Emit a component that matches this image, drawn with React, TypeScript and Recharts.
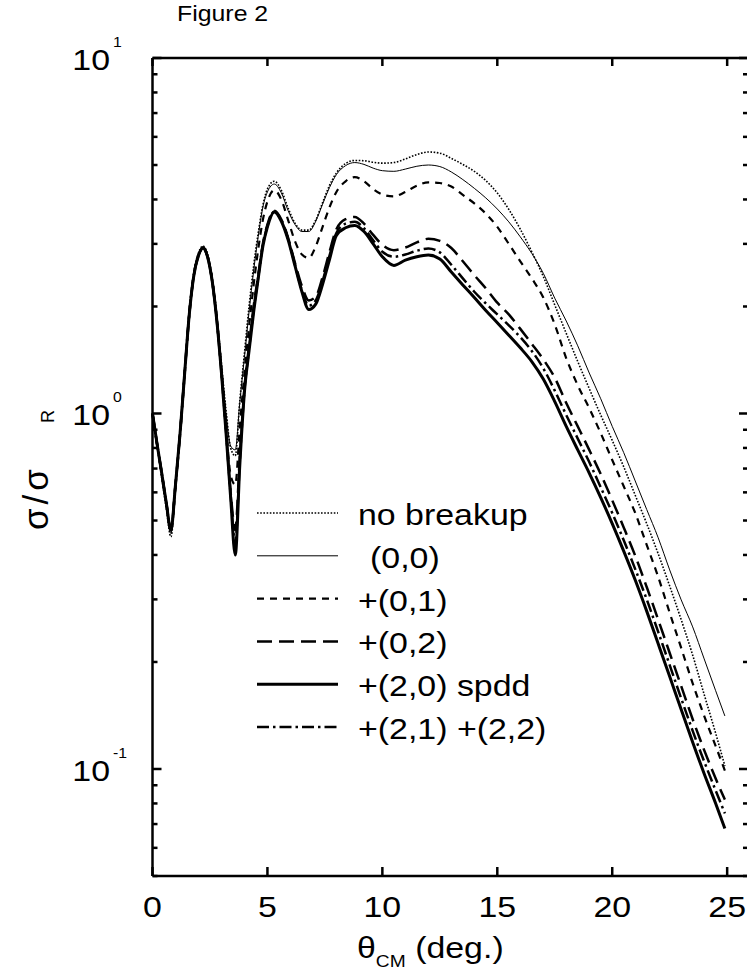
import React from "react";
import { LineChart, Line, XAxis, YAxis, Legend } from "recharts";

// scattering angle, degrees (CM frame)
const theta = [
  0, 0.2, 0.4, 0.6, 0.8, 1, 1.2, 1.4, 1.6, 1.8, 2, 2.2, 2.4, 2.6, 2.8, 3, 3.2, 3.4, 3.6, 3.8,
  4, 4.2, 4.4, 4.6, 4.8, 5, 5.3, 5.6, 5.9, 6.2, 6.5, 6.8, 7.1, 7.4, 7.7, 8, 8.4, 8.8, 9.2, 9.6,
  10, 10.5, 11, 11.5, 12, 12.5, 13, 13.5, 14, 14.5, 15, 15.5, 16, 16.5, 17, 17.5, 18, 18.5, 19, 19.5,
  20, 20.5, 21, 21.5, 22, 22.5, 23, 23.5, 24, 24.5, 24.9,
];

// sigma / sigma_Rutherford for each calculation
const noBreakup = [
  1.0, 0.81, 0.66, 0.54, 0.45, 0.61, 0.88, 1.32, 1.95, 2.5, 2.83, 2.96, 2.8, 2.4, 1.88, 1.38, 1.02, 0.8, 0.76, 1.09,
  1.48, 2.0, 2.6, 3.22, 3.85, 4.28, 4.5, 4.25, 3.78, 3.43, 3.28, 3.28, 3.5, 3.92, 4.38, 4.75, 5.05, 5.15, 5.14, 5.09,
  5.06, 5.08, 5.2, 5.35, 5.44, 5.4, 5.22, 5.02, 4.8, 4.52, 4.17, 3.75, 3.3, 2.85, 2.43, 2.02, 1.68, 1.4, 1.175, 0.99,
  0.84, 0.708, 0.589, 0.49, 0.403, 0.327, 0.263, 0.209, 0.162, 0.126, 0.102,
];
const only00 = [
  1.0, 0.82, 0.67, 0.55, 0.46, 0.62, 0.88, 1.31, 1.94, 2.49, 2.82, 2.95, 2.79, 2.39, 1.87, 1.36, 1.0, 0.81, 0.79, 1.08,
  1.44, 1.93, 2.52, 3.15, 3.8, 4.2, 4.42, 4.18, 3.72, 3.4, 3.25, 3.25, 3.47, 3.88, 4.32, 4.7, 4.98, 5.08, 5.02, 4.9,
  4.82, 4.8, 4.87, 4.96, 5.0, 4.95, 4.78, 4.55, 4.3, 4.04, 3.76, 3.46, 3.14, 2.82, 2.48, 2.11, 1.82, 1.55, 1.3, 1.1,
  0.92, 0.776, 0.646, 0.537, 0.447, 0.363, 0.299, 0.251, 0.204, 0.166, 0.141,
];
const plus01 = [
  1.0, 0.82, 0.68, 0.56, 0.47, 0.63, 0.88, 1.3, 1.92, 2.47, 2.8, 2.93, 2.77, 2.37, 1.85, 1.32, 0.92, 0.67, 0.63, 0.92,
  1.3, 1.75, 2.3, 2.9, 3.5, 3.95, 4.25, 4.0, 3.5, 3.05, 2.8, 2.74, 2.95, 3.35, 3.8, 4.2, 4.5, 4.62, 4.5, 4.28,
  4.13, 4.08, 4.2, 4.37, 4.47, 4.45, 4.35, 4.12, 3.9, 3.65, 3.35, 3.0, 2.68, 2.4, 2.12, 1.78, 1.43, 1.2, 1.035, 0.88,
  0.74, 0.624, 0.525, 0.427, 0.347, 0.275, 0.219, 0.174, 0.141, 0.116, 0.099,
];
const plus02 = [
  1.0, 0.82, 0.68, 0.56, 0.47, 0.63, 0.88, 1.3, 1.9, 2.45, 2.78, 2.92, 2.75, 2.35, 1.83, 1.31, 0.9, 0.6, 0.47, 0.76,
  1.18, 1.55, 2.0, 2.45, 3.0, 3.4, 3.72, 3.52, 3.12, 2.65, 2.28, 2.08, 2.13, 2.42, 2.85, 3.3, 3.52, 3.57, 3.42, 3.18,
  2.98, 2.88, 2.93, 3.03, 3.1, 3.06, 2.92, 2.68, 2.45, 2.25, 2.05, 1.9, 1.73, 1.57, 1.42, 1.26, 1.07, 0.92, 0.79, 0.675,
  0.57, 0.478, 0.398, 0.325, 0.263, 0.212, 0.171, 0.138, 0.113, 0.094, 0.082,
];
const plus20spdd = [
  1.0, 0.82, 0.68, 0.56, 0.47, 0.63, 0.88, 1.3, 1.9, 2.45, 2.78, 2.92, 2.75, 2.35, 1.82, 1.3, 0.88, 0.58, 0.4, 0.72,
  1.15, 1.5, 1.93, 2.4, 2.95, 3.35, 3.69, 3.48, 3.08, 2.6, 2.2, 1.96, 2.03, 2.31, 2.71, 3.17, 3.33, 3.38, 3.25, 3.0,
  2.76, 2.61, 2.7, 2.76, 2.79, 2.72, 2.5, 2.3, 2.12, 1.95, 1.8, 1.66, 1.53, 1.4, 1.25, 1.08, 0.92, 0.79, 0.68, 0.58,
  0.49, 0.41, 0.34, 0.278, 0.225, 0.182, 0.147, 0.119, 0.097, 0.08, 0.068,
];
const plus21plus22 = [
  1.0, 0.82, 0.68, 0.56, 0.47, 0.63, 0.88, 1.3, 1.9, 2.45, 2.78, 2.92, 2.75, 2.35, 1.82, 1.3, 0.89, 0.59, 0.43, 0.74,
  1.16, 1.52, 1.96, 2.42, 2.97, 3.37, 3.7, 3.5, 3.1, 2.62, 2.22, 2.01, 2.08, 2.36, 2.78, 3.22, 3.42, 3.46, 3.32, 3.07,
  2.85, 2.76, 2.8, 2.87, 2.91, 2.84, 2.62, 2.4, 2.2, 2.04, 1.9, 1.77, 1.64, 1.5, 1.34, 1.16, 0.99, 0.85, 0.73, 0.62,
  0.525, 0.44, 0.365, 0.3, 0.243, 0.196, 0.158, 0.128, 0.105, 0.087, 0.075,
];

const xTicks = [0, 5, 10, 15, 20, 25];
const yTicks = [
  0.05, 0.06, 0.07, 0.08, 0.09, 0.1, 0.2, 0.3, 0.4, 0.5, 0.6, 0.7, 0.8, 0.9,
  1, 2, 3, 4, 5, 6, 7, 8, 9, 10,
];
const yMajors = [
  { value: 0.1, exp: "-1" },
  { value: 1, exp: "0" },
  { value: 10, exp: "1" },
];

const FONT = "'Liberation Sans', Arial, Helvetica, sans-serif";
const SX = 1.13; // the original figure is a bit wider than tall

const series = [
  { key: "nb", name: "no breakup", values: noBreakup, width: 1.6, dash: "1.6 1.6" },
  { key: "c00", name: "(0,0)", values: only00, width: 1, dash: undefined },
  { key: "c01", name: "+(0,1)", values: plus01, width: 2.2, dash: "7 6" },
  { key: "c02", name: "+(0,2)", values: plus02, width: 2.5, dash: "15 7" },
  { key: "c20", name: "+(2,0) spdd", values: plus20spdd, width: 3, dash: undefined },
  { key: "c21", name: "+(2,1) +(2,2)", values: plus21plus22, width: 2.5, dash: "12 4 2.5 4" },
];

const data = theta.map((t, i) => {
  const row: Record<string, number> = { theta: t };
  series.forEach((s) => {
    row[s.key] = s.values[i];
  });
  return row;
});

const isMajor = (v: number) => yMajors.find((m) => Math.abs(m.value - v) < 1e-9);

const BottomTick = (props: any) => {
  const { x, y, payload } = props;
  return (
    <g>
      <line x1={x} y1={y} x2={x} y2={y - 9} stroke="#000" strokeWidth={2.5} />
      <text
        transform={`translate(${x},${y + 41}) scale(${SX},1)`}
        textAnchor="middle"
        fontSize={30}
        fontFamily={FONT}
        fill="#000"
      >
        {payload.value}
      </text>
    </g>
  );
};

const TopTick = (props: any) => {
  const { x, y } = props;
  return <line x1={x} y1={y} x2={x} y2={y + 8} stroke="#000" strokeWidth={2.5} />;
};

const LeftTick = (props: any) => {
  const { x, y, payload } = props;
  const major = isMajor(payload.value);
  return (
    <g>
      <line x1={x} y1={y} x2={x + (major ? 9 : 5)} y2={y} stroke="#000" strokeWidth={2.5} />
      {major && (
        <>
          <text
            transform={`translate(${x - 42.5},${y + 12}) scale(${SX},1)`}
            textAnchor="end"
            fontSize={30}
            fontFamily={FONT}
            fill="#000"
          >
            10
          </text>
          <text
            transform={`translate(${x - 39.5},${y - 11}) scale(${SX},1)`}
            fontSize={14}
            fontFamily={FONT}
            fill="#000"
          >
            {major.exp}
          </text>
        </>
      )}
    </g>
  );
};

const RightTick = (props: any) => {
  const { x, y, payload } = props;
  const major = isMajor(payload.value);
  return <line x1={x} y1={y} x2={x - (major ? 10 : 6)} y2={y} stroke="#000" strokeWidth={2.5} />;
};

const FigureTitle = () => (
  <text transform={`translate(177,21) scale(${SX},1)`} fontSize={22} fontFamily={FONT} fill="#000">
    Figure 2
  </text>
);

const XTitle = () => (
  <text transform={`translate(357,958) scale(${SX},1)`} fontSize={30} fontFamily={FONT} fill="#000">
    θ
    <tspan fontSize={17} dy={9}>
      CM
    </tspan>
    <tspan fontSize={30} dy={-9}>
      {" (deg.)"}
    </tspan>
  </text>
);

const YTitle = () => (
  <text transform="translate(48,530) rotate(-90)" fontSize={35} letterSpacing={4} fontFamily={FONT} fill="#000">
    σ/σ
    <tspan fontSize={18} letterSpacing={0} dx={42} dy={6}>
      R
    </tspan>
  </text>
);

const LegendBox = () => (
  <svg width={330} height={250} style={{ display: "block", overflow: "visible" }}>
    {series.map((s, i) => {
      const y = 18 + i * 42.8;
      return (
        <g key={s.key}>
          <line x1={7} x2={88} y1={y} y2={y} stroke="#000" strokeWidth={s.width} strokeDasharray={s.dash} />
          <text
            transform={`translate(${s.key === "c00" ? 120 : 108},${y + 12}) scale(${SX},1)`}
            fontSize={30}
            fontFamily={FONT}
            fill="#000"
          >
            {s.name}
          </text>
        </g>
      );
    })}
  </svg>
);

const axisStyle = { stroke: "#000", strokeWidth: 2.5 };

export default function App() {
  return (
    <div
      style={{
        position: "absolute",
        left: 0,
        top: 0,
        width: 747,
        height: 978,
        overflow: "hidden",
        background: "#fff",
      }}
    >
      <LineChart width={751} height={978} data={data} margin={{ top: 57, right: 1, bottom: 0, left: 0 }}>
        <XAxis
          xAxisId="bottom"
          dataKey="theta"
          type="number"
          domain={[0, 25.95]}
          ticks={xTicks}
          interval={0}
          height={102}
          tickSize={0}
          tickMargin={0}
          tickLine={false}
          axisLine={axisStyle}
          tick={<BottomTick />}
          label={<XTitle />}
        />
        <XAxis
          xAxisId="top"
          orientation="top"
          dataKey="theta"
          type="number"
          domain={[0, 25.95]}
          ticks={xTicks}
          interval={0}
          height={1}
          tickSize={0}
          tickMargin={0}
          tickLine={false}
          axisLine={axisStyle}
          tick={<TopTick />}
          label={<FigureTitle />}
        />
        <YAxis
          yAxisId="left"
          type="number"
          scale="log"
          domain={[0.05, 10]}
          allowDataOverflow
          ticks={yTicks}
          interval={0}
          width={152.5}
          tickSize={0}
          tickMargin={0}
          tickLine={false}
          axisLine={axisStyle}
          tick={<LeftTick />}
          label={<YTitle />}
        />
        <YAxis
          yAxisId="right"
          orientation="right"
          type="number"
          scale="log"
          domain={[0.05, 10]}
          allowDataOverflow
          ticks={yTicks}
          interval={0}
          width={1}
          tickSize={0}
          tickMargin={0}
          tickLine={false}
          axisLine={axisStyle}
          tick={<RightTick />}
        />
        <Legend
          layout="vertical"
          align="center"
          verticalAlign="middle"
          wrapperStyle={{ left: 250, top: 495, width: 330, height: 250 }}
          content={() => <LegendBox />}
        />
        {series.map((s) => (
          <Line
            key={s.key}
            xAxisId="bottom"
            yAxisId="left"
            dataKey={s.key}
            name={s.name}
            type="monotone"
            stroke="#000"
            strokeWidth={s.width}
            strokeDasharray={s.dash}
            dot={false}
            activeDot={false}
            isAnimationActive={false}
          />
        ))}
      </LineChart>
    </div>
  );
}
